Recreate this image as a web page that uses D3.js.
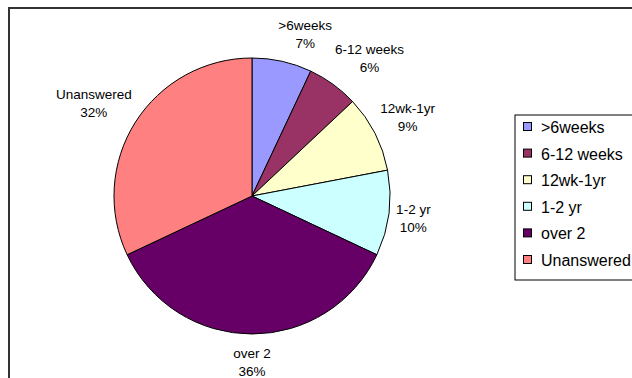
<!DOCTYPE html>
<html>
<head>
<meta charset="utf-8">
<script src="https://cdn.jsdelivr.net/npm/d3@7"></script>
<style>
  html, body { margin: 0; padding: 0; background: #fff; }
  svg { display: block; }
  text { font-family: "Liberation Sans", Arial, sans-serif; fill: #000; }
</style>
</head>
<body>
<svg id="chart" width="632" height="378"></svg>
<script>
// Response categories and their share of answers (percent)
const categories = [">6weeks", "6-12 weeks", "12wk-1yr", "1-2 yr", "over 2", "Unanswered"];
const percents = [7, 6, 9, 10, 36, 32];
const colors = ["#9999FF", "#993366", "#FFFFCC", "#CCFFFF", "#660066", "#FF8080"];

const W = 632, H = 378;
const svg = d3.select("#chart");

// Outer chart frame (runs off the right and bottom edges)
svg.append("rect")
  .attr("x", 9).attr("y", 8)
  .attr("width", W + 20).attr("height", H + 20)
  .attr("fill", "#fff")
  .attr("stroke", "#333").attr("stroke-width", 2);

const cx = 252, cy = 196, r = 138;
const data = categories.map((c, i) => ({ name: c, value: percents[i], color: colors[i] }));

const pie = d3.pie().value(d => d.value).sort(null);
const arc = d3.arc().innerRadius(0).outerRadius(r);
const arcs = pie(data);

const g = svg.append("g").attr("transform", `translate(${cx},${cy})`);
g.selectAll("path.slice")
  .data(arcs)
  .join("path")
  .attr("class", "slice")
  .attr("d", arc)
  .attr("fill", d => d.data.color)
  .attr("stroke", "#000")
  .attr("stroke-width", 1);

// Data labels: name on the first line, percent on the second.
// Each label box is pushed out from a point just beyond the rim, so that
// it sits beside, above or below the slice depending on the slice direction.
const fontSize = 13.5, lineH = 18, gap = 9;
const clamp = v => Math.max(-1, Math.min(1, v));
const labels = g.selectAll("g.lbl")
  .data(arcs)
  .join("g")
  .attr("class", "lbl");

labels.each(function(d) {
  const sel = d3.select(this);
  const t1 = sel.append("text").attr("text-anchor", "middle").attr("font-size", fontSize)
    .attr("y", -lineH / 2 + 5).text(d.data.name);
  const t2 = sel.append("text").attr("text-anchor", "middle").attr("font-size", fontSize)
    .attr("y", lineH / 2 + 5).text(d.data.value + "%");
  const w = Math.max(t1.node().getComputedTextLength(), t2.node().getComputedTextLength());
  const h = lineH * 2;
  const a = (d.startAngle + d.endAngle) / 2;
  const s = Math.sin(a), c = Math.cos(a);
  const px = (r + gap) * s + clamp(s * 4) * 0.9 * w / 2;
  const py = -(r + gap) * c - clamp(c * 1.4) * 1.05 * h / 2;
  sel.attr("transform", `translate(${px},${py})`);
});

// Legend
const lg = svg.append("g");
const lx = 515, ly = 115, rowH = 26.6;
lg.append("rect")
  .attr("x", lx).attr("y", ly)
  .attr("width", 140).attr("height", 165)
  .attr("fill", "#fff").attr("stroke", "#000").attr("stroke-width", 1);

const rows = lg.selectAll("g.row")
  .data(data)
  .join("g")
  .attr("class", "row")
  .attr("transform", (d, i) => `translate(${lx + 8},${ly + 12 + i * rowH})`);
rows.append("rect")
  .attr("x", 0.5).attr("y", -4.5)
  .attr("width", 8).attr("height", 8)
  .attr("fill", d => d.color)
  .attr("stroke", "#000").attr("stroke-width", 1);
rows.append("text")
  .attr("x", 18).attr("y", 6)
  .attr("font-size", 16)
  .text(d => d.name);
</script>
</body>
</html>
